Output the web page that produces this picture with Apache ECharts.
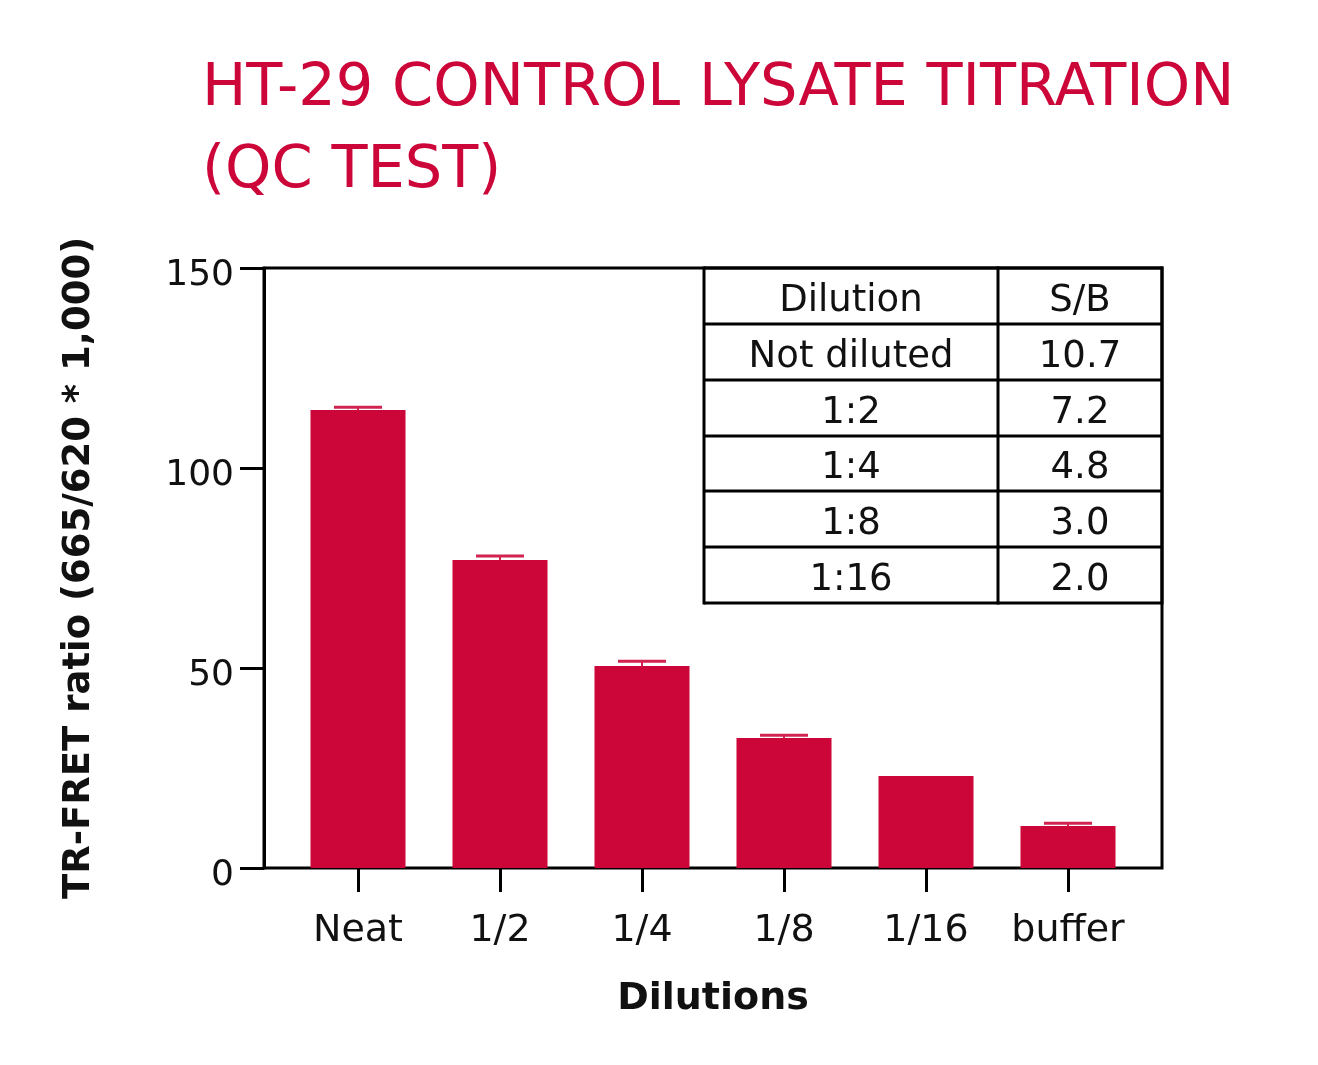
<!DOCTYPE html>
<html>
<head>
<meta charset="utf-8">
<script src="https://cdn.jsdelivr.net/npm/echarts@6/dist/echarts.min.js"></script>
<style>
  html, body { margin: 0; padding: 0; background: #fff; }
  #chart { width: 1318px; height: 1065px; }
</style>
</head>
<body>
<div id="chart"></div>
<script>
// ---- data ----
const categories = ['Neat', '1/2', '1/4', '1/8', '1/16', 'buffer'];
const ratioValues = [114.5, 77, 50.5, 32.5, 23, 10.5];
const errorTops = [115.2, 78, 51.7, 33.2, null, 11.2];
const yMin = 0, yMax = 150, yStep = 50;
const tableHeader = ['Dilution', 'S/B'];
const tableDilutions = ['Not diluted', '1:2', '1:4', '1:8', '1:16'];
const tableSB = ['10.7', '7.2', '4.8', '3.0', '2.0'];
const titleText = 'HT-29 CONTROL LYSATE TITRATION\n(QC TEST)';

// ---- styling ----
const RED = '#CC0639';
const FONT = 'DejaVu Sans';
const INK = '#111';

const chart = echarts.init(document.getElementById('chart'), null, { renderer: 'canvas' });

// table graphic
const tbl = { left: 704, right: 1162, split: 998, rows: [268, 324, 380, 436, 491, 547, 603] };
const tableGraphics = [];
const lw = 3;
tbl.rows.forEach(y => {
  tableGraphics.push({ type: 'line', shape: { x1: tbl.left, y1: y, x2: tbl.right, y2: y }, style: { stroke: '#000', lineWidth: lw }, z: 50 });
});
[tbl.left, tbl.split, tbl.right].forEach(x => {
  tableGraphics.push({ type: 'line', shape: { x1: x, y1: tbl.rows[0] - 1.5, x2: x, y2: tbl.rows[tbl.rows.length - 1] + 1.5 }, style: { stroke: '#000', lineWidth: lw }, z: 50 });
});
const colCenters = [(tbl.left + tbl.split) / 2, (tbl.split + tbl.right) / 2];
const rowsText = [tableHeader].concat(tableDilutions.map((d, i) => [d, tableSB[i]]));
rowsText.forEach((row, r) => {
  const cy = (tbl.rows[r] + tbl.rows[r + 1]) / 2 + 5;
  row.forEach((txt, c) => {
    tableGraphics.push({
      type: 'text', x: colCenters[c], y: cy, z: 51,
      style: { text: txt, fill: INK, font: '37px "' + FONT + '"', textAlign: 'center', textVerticalAlign: 'middle' }
    });
  });
});

const option = {
  backgroundColor: '#fff',
  animation: false,
  title: {
    text: titleText,
    left: 197, top: 44,
    textStyle: { color: RED, fontFamily: FONT, fontSize: 59, fontWeight: 'normal', lineHeight: 82 }
  },
  grid: [
    { left: 264, top: 268, width: 898, height: 600, show: true, borderColor: '#000', borderWidth: 3, backgroundColor: 'transparent' },
    { left: 287, top: 268, width: 852, height: 600 }
  ],
  xAxis: [
    { gridIndex: 0, type: 'value', min: 0, max: 1, show: false },
    {
      gridIndex: 1, type: 'category', data: categories,
      axisLine: { show: false },
      axisTick: { show: true, interval: 0, alignWithLabel: true, length: 24, lineStyle: { color: '#000', width: 3 } },
      axisLabel: { interval: 0, color: INK, fontFamily: FONT, fontSize: 38, margin: 44 },
      name: 'Dilutions', nameLocation: 'middle', nameGap: 112,
      nameTextStyle: { color: INK, fontFamily: FONT, fontSize: 38, fontWeight: 'bold' }
    }
  ],
  yAxis: [
    {
      gridIndex: 0, type: 'value', min: yMin, max: yMax, interval: yStep,
      axisLine: { show: true, lineStyle: { color: '#000', width: 3 } },
      axisTick: { show: true, length: 24, lineStyle: { color: '#000', width: 3 } },
      axisLabel: {
        color: INK, fontFamily: FONT, fontSize: 36, margin: 30,
        formatter: '{v|{value}}',
        rich: { v: { fontFamily: FONT, fontSize: 36, color: INK, padding: [16, 0, 0, 0] } }
      },
      splitLine: { show: false },
      name: 'TR-FRET ratio (665/620 * 1,000)', nameLocation: 'middle', nameGap: 166,
      nameTextStyle: { color: INK, fontFamily: FONT, fontSize: 37, fontWeight: 'bold' }
    },
    { gridIndex: 1, type: 'value', min: yMin, max: yMax, interval: yStep, show: false }
  ],
  series: [
    {
      type: 'bar', xAxisIndex: 1, yAxisIndex: 1,
      data: ratioValues, barWidth: 95,
      itemStyle: { color: RED }
    },
    {
      type: 'custom', xAxisIndex: 1, yAxisIndex: 1, z: 5,
      data: errorTops.map((e, i) => [i, e, ratioValues[i]]).filter(d => d[1] != null),
      renderItem: function (params, api) {
        const top = api.coord([api.value(0), api.value(1)]);
        const base = api.coord([api.value(0), api.value(2)]);
        return {
          type: 'group',
          children: [
            { type: 'line', shape: { x1: top[0] - 24, y1: top[1], x2: top[0] + 24, y2: top[1] }, style: { stroke: '#D2224F', lineWidth: 3 } },
            { type: 'line', shape: { x1: top[0], y1: top[1], x2: base[0], y2: base[1] }, style: { stroke: '#D2224F', lineWidth: 2 } }
          ]
        };
      }
    }
  ],
  graphic: tableGraphics
};
chart.setOption(option);
</script>
</body>
</html>
